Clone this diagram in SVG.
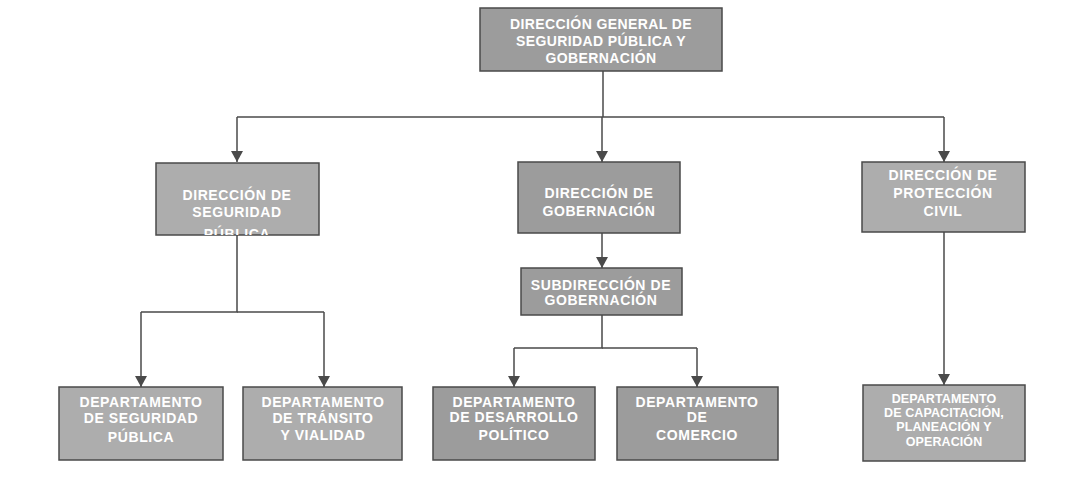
<svg xmlns="http://www.w3.org/2000/svg" width="1071" height="483" viewBox="0 0 1071 483">
<defs>
<style>
.box{fill:#adadad;stroke:#4a4a4a;stroke-width:1.5}
.dark{fill:#9c9c9c}
.t{font-family:"Liberation Sans",Arial,sans-serif;font-weight:bold;font-size:14px;letter-spacing:0.6px;fill:#ffffff;text-anchor:middle}
.tl{letter-spacing:0.4px}
.ts{font-size:12.5px;letter-spacing:0.1px}
.c{fill:none;stroke:#4a4a4a;stroke-width:1.5}
</style>
<marker id="ah" viewBox="0 0 11 12" refX="11" refY="6" markerWidth="11" markerHeight="12" markerUnits="userSpaceOnUse" orient="auto">
<path d="M0,0 L11,6 L0,12 z" fill="#4a4a4a"/>
</marker>
<clipPath id="clipL"><rect x="156" y="163" width="163" height="72"/></clipPath>
</defs>
<rect width="1071" height="483" fill="#ffffff"/>
<g id="connectors">
<path class="c" d="M603,71 V117"/>
<path class="c" d="M237,117 H944"/>
<path class="c" d="M237,117 V162" marker-end="url(#ah)"/>
<path class="c" d="M602,117 V162" marker-end="url(#ah)"/>
<path class="c" d="M944,117 V162" marker-end="url(#ah)"/>
<path class="c" d="M237,235 V312 H141"/>
<path class="c" d="M237,312 H324"/>
<path class="c" d="M141,312 V387" marker-end="url(#ah)"/>
<path class="c" d="M324,312 V387" marker-end="url(#ah)"/>
<path class="c" d="M602,233 V268" marker-end="url(#ah)"/>
<path class="c" d="M602,315 V348 H514"/>
<path class="c" d="M602,348 H697"/>
<path class="c" d="M514,348 V387" marker-end="url(#ah)"/>
<path class="c" d="M697,348 V387" marker-end="url(#ah)"/>
<path class="c" d="M944,232 V385" marker-end="url(#ah)"/>
</g>
<g id="n_general">
<rect class="box dark" x="480" y="8" width="242" height="63"/>
<text class="t tl" x="601" y="29">DIRECCIÓN GENERAL DE</text>
<text class="t tl" x="601" y="46">SEGURIDAD PÚBLICA Y</text>
<text class="t tl" x="601" y="63">GOBERNACIÓN</text>
</g>
<g id="n_seguridad">
<rect class="box" x="156" y="163" width="163" height="72"/>
<g clip-path="url(#clipL)">
<text class="t" x="237" y="200">DIRECCIÓN DE</text>
<text class="t" x="237" y="217">SEGURIDAD</text>
<text class="t" x="237" y="239">PÚBLICA</text>
</g>
</g>
<g id="n_gobernacion">
<rect class="box dark" x="518" y="162" width="162" height="71"/>
<text class="t" x="599" y="198">DIRECCIÓN DE</text>
<text class="t" x="599" y="216">GOBERNACIÓN</text>
</g>
<g id="n_proteccion">
<rect class="box" x="862" y="162" width="163" height="70"/>
<text class="t" x="943" y="180">DIRECCIÓN DE</text>
<text class="t" x="943" y="198">PROTECCIÓN</text>
<text class="t" x="943" y="216">CIVIL</text>
</g>
<g id="n_subdireccion">
<rect class="box dark" x="521" y="268" width="161" height="47"/>
<text class="t" x="601" y="290">SUBDIRECCIÓN DE</text>
<text class="t" x="601" y="305">GOBERNACIÓN</text>
</g>
<g id="n_dep_seguridad">
<rect class="box" x="59" y="387" width="164" height="73"/>
<text class="t" x="141" y="407">DEPARTAMENTO</text>
<text class="t" x="141" y="423">DE SEGURIDAD</text>
<text class="t" x="141" y="442">PÚBLICA</text>
</g>
<g id="n_dep_transito">
<rect class="box" x="243" y="387" width="159" height="73"/>
<text class="t" x="323" y="407">DEPARTAMENTO</text>
<text class="t" x="323" y="423">DE TRÁNSITO</text>
<text class="t" x="323" y="440">Y VIALIDAD</text>
</g>
<g id="n_dep_desarrollo">
<rect class="box dark" x="433" y="387" width="162" height="73"/>
<text class="t" x="514" y="407">DEPARTAMENTO</text>
<text class="t" x="514" y="422">DE DESARROLLO</text>
<text class="t" x="514" y="440">POLÍTICO</text>
</g>
<g id="n_dep_comercio">
<rect class="box dark" x="617" y="387" width="161" height="73"/>
<text class="t" x="697" y="407">DEPARTAMENTO</text>
<text class="t" x="697" y="422">DE</text>
<text class="t" x="697" y="440">COMERCIO</text>
</g>
<g id="n_dep_capacitacion">
<rect class="box" x="863" y="385" width="162" height="76"/>
<text class="t ts" x="944" y="403">DEPARTAMENTO</text>
<text class="t ts" x="944" y="417">DE CAPACITACIÓN,</text>
<text class="t ts" x="944" y="431">PLANEACIÓN Y</text>
<text class="t ts" x="944" y="446">OPERACIÓN</text>
</g>
</svg>
